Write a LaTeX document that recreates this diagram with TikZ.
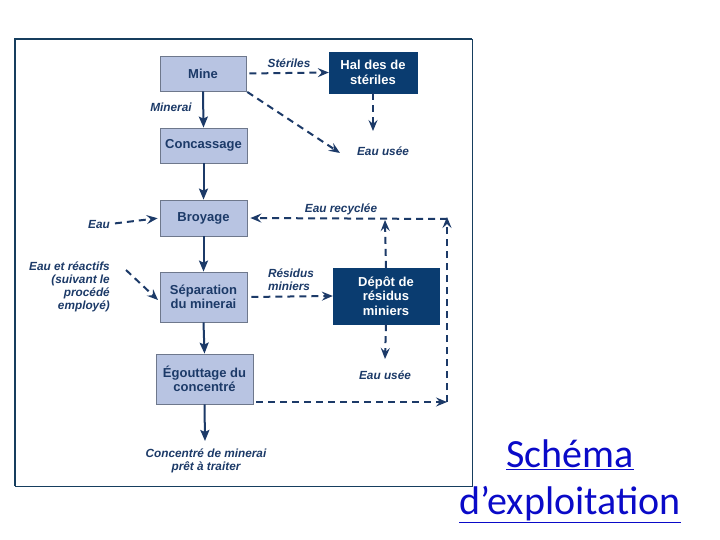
\documentclass[tikz,border=0pt]{standalone}
\usepackage{fontspec}
\setmainfont{Liberation Sans}
\newfontfamily\calib{Carlito}
\usetikzlibrary{arrows.meta}
\definecolor{navy}{RGB}{28,58,104}
\definecolor{darkbox}{RGB}{10,60,112}
\definecolor{lightbox}{RGB}{184,196,226}
\definecolor{boxline}{RGB}{110,120,140}
\definecolor{framec}{RGB}{22,62,94}
\definecolor{linkblue}{RGB}{10,10,200}
\tikzset{
  lbox/.style={draw=boxline, line width=0.8pt, fill=lightbox, text=navy, font=\fontsize{13}{14.5}\selectfont\bfseries, align=center, inner sep=0pt},
  dbox/.style={draw=darkbox, fill=darkbox, text=white, font=\fontsize{13}{14.5}\selectfont\bfseries, align=center, inner sep=0pt},
  lab/.style={text=navy, font=\fontsize{11.8}{13}\selectfont\bfseries\itshape, inner sep=0pt},
  solidarr/.style={draw=navy, line width=2pt, -{Stealth[length=11pt,width=9pt,inset=2pt]}},
  dasharr/.style={draw=navy, line width=2pt, dash pattern=on 7pt off 5pt, -{Stealth[length=11pt,width=9pt,inset=4pt]}},
}
\begin{document}
\begin{tikzpicture}[x=1pt,y=-1pt]
\useasboundingbox (0,0) rectangle (720,540);
\fill[white] (0,0) rectangle (720,540);
% frame
\draw[framec, line width=2pt] (14.5,486) -- (14.5,39) -- (472,39);
\draw[framec, line width=1pt] (472,39) -- (472,486) -- (14.5,486);

% boxes
\node[lbox, minimum width=86pt, minimum height=35pt] (mine) at (203,73.5) {Mine};
\node[dbox, minimum width=88pt, minimum height=41pt] (haldes) at (373,72.5) {Hal des de\\st\'eriles};
\node[lbox, minimum width=87pt, minimum height=35pt] (conc) at (203.5,145.5) {Concassage};
\node[lbox, minimum width=87pt, minimum height=36pt] (broy) at (203.5,218) {Broyage};
\node[lbox, minimum width=87pt, minimum height=50pt] (sep) at (203.5,297) {S\'eparation\\du minerai};
\node[dbox, minimum width=106pt, minimum height=56pt] (depot) at (386,296) {D\'ep\^ot de\\r\'esidus\\miniers};
\node[lbox, minimum width=97pt, minimum height=50pt] (egout) at (204.5,379) {\'Egouttage du\\concentr\'e};

% labels
\node[lab] (steriles) at (289,63) {St\'eriles};
\node[lab] (minerai) at (171,107) {Minerai};
\node[lab] (eauusee1) at (383,151) {Eau us\'ee};
\node[lab, anchor=east] (eau) at (110,224) {Eau};
\node[lab] (eaurec) at (341,209) {Eau recycl\'ee};
\node[lab, align=right, anchor=north east] (eaureac) at (110,262) {Eau et r\'eactifs\\(suivant le\\proc\'ed\'e\\employ\'e)};
\node[lab, align=left] (residus) at (291,280) {R\'esidus\\miniers};
\node[lab] (eauusee2) at (385,375) {Eau us\'ee};
\node[lab, align=center] (concmin) at (206,461) {Concentr\'e de minerai\\pr\^et \`a traiter};

% free ends
\coordinate (eu1) at (340,153);
\coordinate (hb) at (373,131);
\coordinate (er0) at (126,270);
\coordinate (er1) at (158,300);
\coordinate (dtop) at (385,220);
\coordinate (dbot) at (385,359);
\coordinate (c1) at (447,402);
\coordinate (c2) at (447,217);
\coordinate (c3) at (447,219);
\coordinate (cfin) at (205,441);

% solid arrows
\draw[solidarr] (mine.south) -- (conc.north);
\draw[solidarr] (conc.south) -- (broy.north);
\draw[solidarr] (broy.south) -- (sep.north);
\draw[solidarr] (sep.south) -- (egout.north);
\draw[solidarr] (egout.south) -- (cfin);

% dashed arrows
\draw[dasharr, shorten <=3pt] (mine.east) -- (haldes.west);
\draw[dasharr, shorten <=1pt] (mine.south east) -- (eu1);
\draw[dasharr] (haldes.south) -- (hb);
\draw[dasharr, shorten <=5pt, shorten >=2pt] (eau.east) -- (broy.west);
\draw[dasharr] (er0) -- (er1);
\draw[dasharr, shorten <=4pt] (sep.east) -- (depot.west);
\draw[dasharr] (depot.north) -- (dtop);
\draw[dasharr] (depot.south) -- (dbot);
\draw[dasharr, shorten <=3pt] (egout.east |- c1) -- (c1);
\draw[dasharr] (c1) -- (c2);
\draw[dasharr, shorten >=3pt] (c3) -- (broy.east);

% title link
\node[text=linkblue, font=\calib\fontsize{40}{47}\selectfont, align=center, inner sep=0pt] (titre) at (570,481) {\underline{Sch\'ema}\\\underline{d’exploitation}};
\end{tikzpicture}
\end{document}
